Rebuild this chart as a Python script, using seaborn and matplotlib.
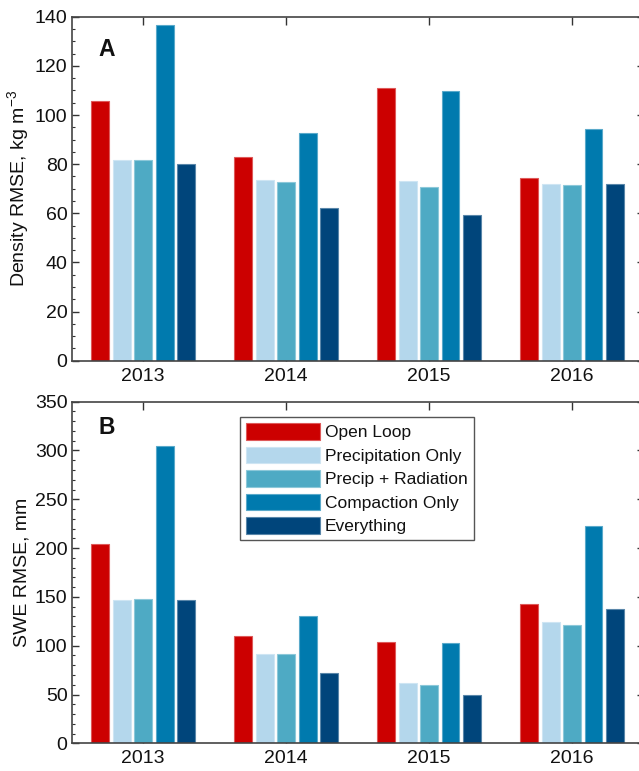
import matplotlib
matplotlib.use("Agg")
import matplotlib.pyplot as plt
from matplotlib.ticker import MultipleLocator
from matplotlib.colors import to_rgb
import pandas as pd
import seaborn as sns

# Data
years = ["2013", "2014", "2015", "2016"]
series = ["Open Loop", "Precipitation Only", "Precip + Radiation",
          "Compaction Only", "Everything"]
colors = ["#CC0000", "#B4D7EC", "#4EAAC4", "#007AAE", "#00457B"]

density_open_loop = [105.6, 83.0, 110.9, 74.5]
density_precip = [81.8, 73.5, 73.1, 71.9]
density_precip_rad = [81.6, 72.6, 70.7, 71.5]
density_compaction = [136.7, 92.6, 109.7, 94.3]
density_everything = [80.2, 62.0, 59.1, 71.8]

swe_open_loop = [203.9, 110.3, 104.1, 142.4]
swe_precip = [147.2, 91.2, 62.1, 124.3]
swe_precip_rad = [147.9, 91.5, 60.1, 121.2]
swe_compaction = [304.9, 130.1, 103.1, 222.3]
swe_everything = [146.8, 71.7, 49.2, 138.0]


def make_df(cols):
    rows = []
    for name, vals in zip(series, cols):
        for yr, v in zip(years, vals):
            rows.append({"year": yr, "series": name, "value": v})
    return pd.DataFrame(rows)


density_df = make_df([density_open_loop, density_precip, density_precip_rad,
                      density_compaction, density_everything])
swe_df = make_df([swe_open_loop, swe_precip, swe_precip_rad,
                  swe_compaction, swe_everything])

sns.set_theme(style="white")
plt.rcParams["font.family"] = ["Liberation Sans", "DejaVu Sans"]
plt.rcParams["mathtext.default"] = "regular"

fig = plt.figure(figsize=(6.39, 7.71), dpi=100)
ax_a = fig.add_axes([0.1122, 0.5322, 0.895, 0.4461])
ax_b = fig.add_axes([0.1122, 0.0359, 0.895, 0.4431])


def lighten(c, f=0.35):
    r, g, b = to_rgb(c)
    return (r + (1 - r) * f, g + (1 - g) * f, b + (1 - b) * f)


def draw(ax, df, ymax, major, minor, ylabel, letter, letter_y, legend):
    sns.barplot(data=df, x="year", y="value", hue="series", palette=colors,
                saturation=1, width=0.75, gap=0.17, ax=ax, legend=legend,
                errorbar=None)
    for patch in ax.patches:
        patch.set_edgecolor(lighten(patch.get_facecolor()))
        patch.set_linewidth(0.8)
    ax.set_xlim(-0.5, 3.5)
    ax.set_ylim(0, ymax)
    ax.yaxis.set_major_locator(MultipleLocator(major))
    ax.yaxis.set_minor_locator(MultipleLocator(minor))
    ax.tick_params(axis="both", which="major", direction="in", length=5,
                   width=1, color="#333333", labelsize=14, top=True,
                   right=True, bottom=True, left=True, pad=3,
                   labelcolor="#111111")
    ax.tick_params(axis="y", which="minor", direction="in", length=2.5,
                   width=0.8, color="#333333", left=True, right=True)
    ax.tick_params(axis="x", which="major", length=6, pad=5)
    for s in ax.spines.values():
        s.set_linewidth(1.2)
        s.set_color("#444444")
    ax.set_xlabel("")
    ax.set_ylabel(ylabel, fontsize=14, labelpad=3, color="#111111")
    ax.text(0.046, letter_y, letter, transform=ax.transAxes, fontsize=16.5,
            fontweight="bold", va="center", ha="left", color="#111111")


draw(ax_a, density_df, 140, 20, 5, "Density RMSE, kg m$^{-3}$", "A", 0.905,
     False)
draw(ax_b, swe_df, 350, 50, 10, "SWE RMSE, mm", "B", 0.923, True)

leg = ax_b.legend(loc="upper left", bbox_to_anchor=(0.294, 0.955),
                  borderaxespad=0, fontsize=12.5, handlelength=4.25,
                  handleheight=1.1, labelspacing=0.36, handletextpad=0.3,
                  borderpad=0.35, fancybox=False, framealpha=1,
                  edgecolor="#555555", title=None)
leg.get_frame().set_linewidth(1.0)
for txt in leg.get_texts():
    txt.set_color("#111111")

fig.savefig("out.png", dpi=100)
